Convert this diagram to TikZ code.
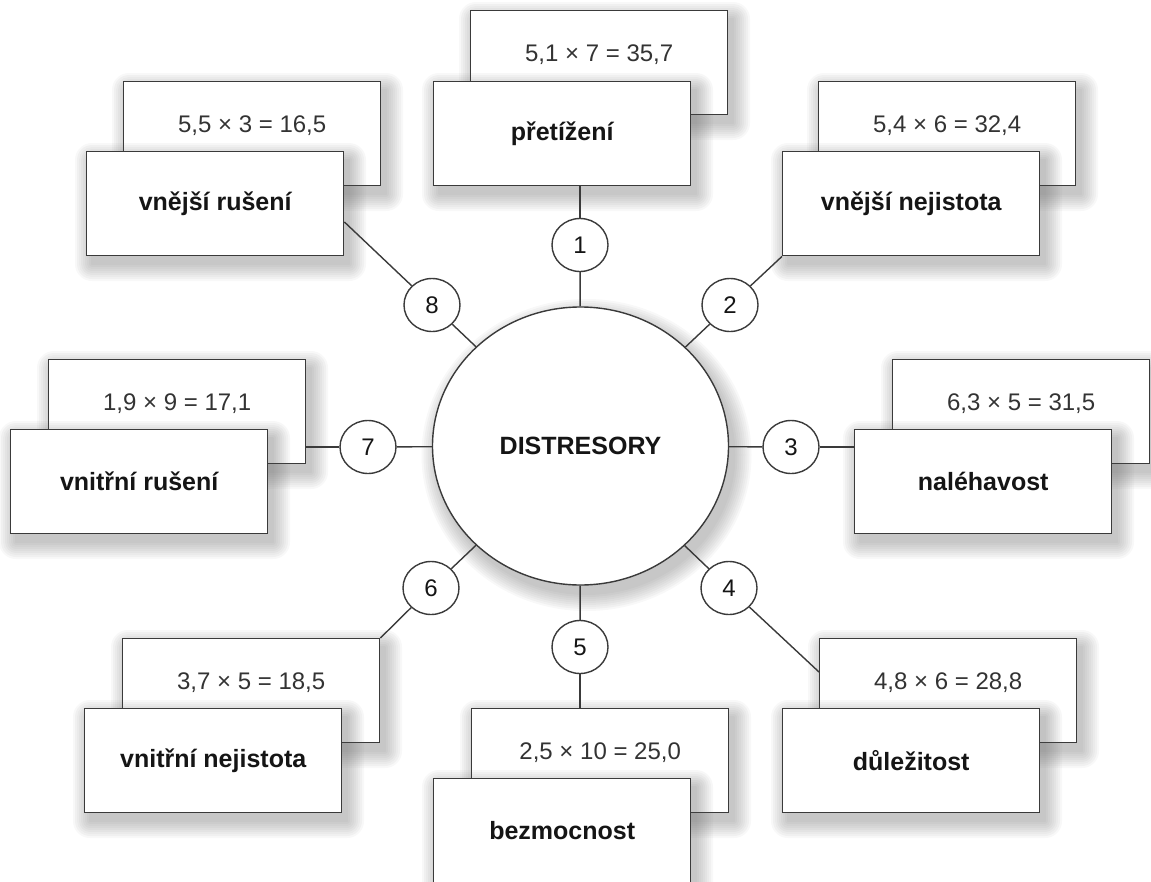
\documentclass[tikz,border=0pt]{standalone}
\usepackage{fontspec}
\setmainfont{Liberation Sans}
\usetikzlibrary{shapes.geometric,calc}
\definecolor{linec}{HTML}{3A3A3A}
\definecolor{formulac}{HTML}{333333}
\definecolor{labelc}{HTML}{151515}
\definecolor{shadowc}{HTML}{555555}
\tikzset{
  card/.style={draw=linec, fill=white, line width=1.4pt, minimum width=257pt,
    minimum height=104pt, inner sep=0pt, anchor=north west},
  frontcard/.style={card, font=\fontsize{25}{28}\selectfont\bfseries, text=labelc},
  formula/.style={font=\fontsize{24}{28}\selectfont, text=formulac, inner sep=0pt},
  num/.style={ellipse, draw=linec, fill=white, line width=1.4pt, minimum width=56pt,
    minimum height=53pt, inner sep=0pt, font=\fontsize{24}{28}\selectfont, text=labelc},
  hub/.style={ellipse, draw=linec, fill=white, line width=1.4pt, minimum width=296pt,
    minimum height=278pt, inner sep=0pt, font=\fontsize{25}{28}\selectfont\bfseries,
    text=labelc},
  link/.style={draw=linec, line width=1.4pt},
  shadowlayer/.style={fill=shadowc, opacity=0.045},
}
% soft shadow of a card whose top-left corner is (#1,#2), size 257 x 104
\newcommand\cardshadow[2]{%
  \foreach \r in {1,3,...,17} {%
    \fill[shadowlayer, rounded corners=\r pt]
      (#1+6-\r, #2-9+\r) rectangle (#1+6+257+\r, #2-9-104-\r);}%
}
% soft shadow of the central oval centred at (#1,#2)
\newcommand\ovalshadow[2]{%
  \foreach \r in {1,3,...,17} {%
    \fill[shadowlayer] (#1+6, #2-9) ellipse ({148+\r} and {139+\r});}%
}
\begin{document}
\begin{tikzpicture}[x=1pt, y=1pt]
\useasboundingbox (0,-881) rectangle (1151,0);

% central node
\ovalshadow{580.5}{-446}
\node[hub] (hub) at (580.5,-446) {DISTRESORY};

% numbered circles around the hub
\node[num] (c1) at (580,-245) {1};
\node[num] (c2) at (730,-305) {2};
\node[num] (c3) at (791,-447) {3};
\node[num] (c4) at (729,-588) {4};
\node[num] (c5) at (580,-647) {5};
\node[num] (c6) at (431,-588) {6};
\node[num] (c7) at (368,-447) {7};
\node[num] (c8) at (432,-305) {8};

% card pairs: back card with the score, front card with the distressor name
\cardshadow{470}{-10}
\node[card] (b1) at (470,-10) {};
\node[formula] (t1) at ($(b1.north)+(0,-45)$) {5,1 × 7 = 35,7};
\cardshadow{433}{-81}
\node[frontcard] (f1) at (433,-81) {přetížení};

\cardshadow{818}{-81}
\node[card] (b2) at (818,-81) {};
\node[formula] (t2) at ($(b2.north)+(0,-45)$) {5,4 × 6 = 32,4};
\cardshadow{782}{-151}
\node[frontcard] (f2) at (782,-151) {vnější nejistota};

\cardshadow{892}{-359}
\node[card] (b3) at (892,-359) {};
\node[formula] (t3) at ($(b3.north)+(0,-45)$) {6,3 × 5 = 31,5};
\cardshadow{854}{-429}
\node[frontcard] (f3) at (854,-429) {naléhavost};

\cardshadow{819}{-638}
\node[card] (b4) at (819,-638) {};
\node[formula] (t4) at ($(b4.north)+(0,-45)$) {4,8 × 6 = 28,8};
\cardshadow{782}{-708}
\node[frontcard] (f4) at (782,-708) {důležitost};

\cardshadow{471}{-708}
\node[card] (b5) at (471,-708) {};
\node[formula] (t5) at ($(b5.north)+(0,-45)$) {2,5 × 10 = 25,0};
\cardshadow{433}{-778}
\node[frontcard] (f5) at (433,-778) {bezmocnost};

\cardshadow{122}{-638}
\node[card] (b6) at (122,-638) {};
\node[formula] (t6) at ($(b6.north)+(0,-45)$) {3,7 × 5 = 18,5};
\cardshadow{84}{-708}
\node[frontcard] (f6) at (84,-708) {vnitřní nejistota};

\cardshadow{48}{-359}
\node[card] (b7) at (48,-359) {};
\node[formula] (t7) at ($(b7.north)+(0,-45)$) {1,9 × 9 = 17,1};
\cardshadow{10}{-429}
\node[frontcard] (f7) at (10,-429) {vnitřní rušení};

\cardshadow{123}{-81}
\node[card] (b8) at (123,-81) {};
\node[formula] (t8) at ($(b8.north)+(0,-45)$) {5,5 × 3 = 16,5};
\cardshadow{86}{-151}
\node[frontcard] (f8) at (86,-151) {vnější rušení};

% spokes: hub -> numbered circle
\foreach \i in {1,...,8} { \draw[link] (hub) -- (c\i); }

% numbered circle -> card
\draw[link] (c1) -- (c1 |- f1.south);
\draw[link] (c2) -- (f2.south west);
\draw[link] (c3) -- (c3 -| f3.west);
\draw[link] (c4) -- ($(b4.north west)+(0,-34)$);
\draw[link] (c5) -- (c5 |- b5.north);
\draw[link] (c6) -- (b6.north east);
\draw[link] (c7) -- (c7 -| b7.east);
\draw[link] (c8) -- ($(f8.north east)+(0,-71)$);
\end{tikzpicture}
\end{document}
